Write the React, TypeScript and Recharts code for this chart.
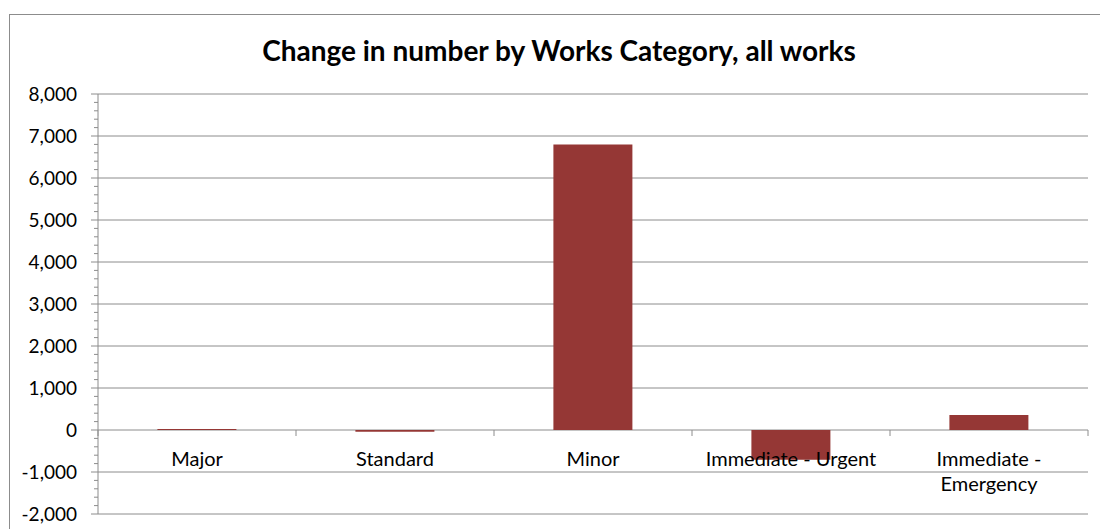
import { Bar, BarChart, CartesianGrid, YAxis, XAxis } from "recharts";

// Excel 스타일 단일 계열 막대 차트 (0 위치에 카테고리 축)
const CATEGORIES = ["Major", "Standard", "Minor", "Immediate - Urgent", "Immediate - Emergency"];
const CHANGE = [25, -40, 6800, -710, 355];
const LABEL_LINES: Record<string, string[]> = {
  "Immediate - Emergency": ["Immediate -", "Emergency"],
};
const MAJOR_TICKS = [-2000, -1000, 0, 1000, 2000, 3000, 4000, 5000, 6000, 7000, 8000];
const MINOR_STEP = 200;

const Y_MIN = -2000;
const Y_MAX = 8000;
const ALL_TICKS: number[] = [];
for (let v = Y_MIN; v <= Y_MAX; v += MINOR_STEP) ALL_TICKS.push(v);

const W = 1100;
const H = 529;
const X_AXIS_H = 1;
const MARGIN = { top: 94, right: 12, bottom: 15 - X_AXIS_H, left: 0 };
const Y_AXIS_W = 98;
const PLOT_W = W - MARGIN.left - MARGIN.right - Y_AXIS_W;
const PLOT_H = H - MARGIN.top - MARGIN.bottom - X_AXIS_H;
// 카테고리 축은 0 에 놓인다: 하단에서 0 까지의 거리
const ZERO_SHIFT = (PLOT_H * (0 - Y_MIN)) / (Y_MAX - Y_MIN);
const BAND = PLOT_W / CATEGORIES.length;

const FONT = "Lato, 'Open Sans', sans-serif";
const BAR = "#953735";
const LINE = "#8c8c8c";

const data = CATEGORIES.map((name, i) => ({ name, value: CHANGE[i] }));

function YTick(props: any) {
  const { x, y, payload } = props;
  const v = payload.value as number;
  const major = v % 1000 === 0;
  return (
    <g>
      <line x1={x - (major ? 7 : 4)} x2={x} y1={y} y2={y} stroke={LINE} />
      {major && (
        <text x={x - 21} y={y} dy="0.35em" textAnchor="end" fontSize={19} fill="#000" fontFamily={FONT}>
          {v.toLocaleString("en-US")}
        </text>
      )}
    </g>
  );
}

function XTick(props: any) {
  const { x, y, payload, index } = props;
  const y0 = y - ZERO_SHIFT;
  const lines = LABEL_LINES[payload.value] ?? [payload.value];
  return (
    <g>
      {index === 0 && <line x1={x - BAND / 2} x2={x - BAND / 2} y1={y0} y2={y0 + 6} stroke={LINE} />}
      <line x1={x + BAND / 2} x2={x + BAND / 2} y1={y0} y2={y0 + 6} stroke={LINE} />
      {lines.map((t, i) => (
        <text key={i} x={x} y={y0 + 29 + i * 25} dy="0.35em" textAnchor="middle" fontSize={20} fill="#000" fontFamily={FONT}>
          {t}
        </text>
      ))}
    </g>
  );
}

export default function App() {
  return (
    <div style={{ position: "absolute", left: 0, top: 0, width: W, height: H, overflow: "hidden", background: "#fff" }}>
      <div
        style={{
          position: "absolute",
          left: 9,
          top: 14,
          width: W,
          height: H,
          border: `1px solid ${LINE}`,
        }}
      />
      <div
        style={{
          position: "absolute",
          left: 9,
          top: 33,
          width: W,
          textAlign: "center",
          fontFamily: FONT,
          fontWeight: 700,
          fontSize: 28,
          color: "#000",
        }}
      >
        Change in number by Works Category, all works
      </div>
      <div style={{ position: "absolute", left: 0, top: 0 }}>
        <BarChart width={W} height={H} data={data} margin={MARGIN} barCategoryGap="30%">
          <CartesianGrid vertical={false} stroke={LINE} horizontalValues={MAJOR_TICKS} />
          <XAxis
            dataKey="name"
            height={X_AXIS_H}
            axisLine={false}
            tickLine={false}
            tickSize={0}
            tickMargin={0}
            interval={0}
            tick={<XTick />}
          />
          <YAxis
            width={Y_AXIS_W}
            domain={[Y_MIN, Y_MAX]}
            ticks={ALL_TICKS}
            interval={0}
            tickLine={false}
            tickSize={0}
            tickMargin={0}
            axisLine={{ stroke: LINE }}
            tick={<YTick />}
          />
          <Bar dataKey="value" fill={BAR} isAnimationActive={false} />
        </BarChart>
      </div>
    </div>
  );
}
